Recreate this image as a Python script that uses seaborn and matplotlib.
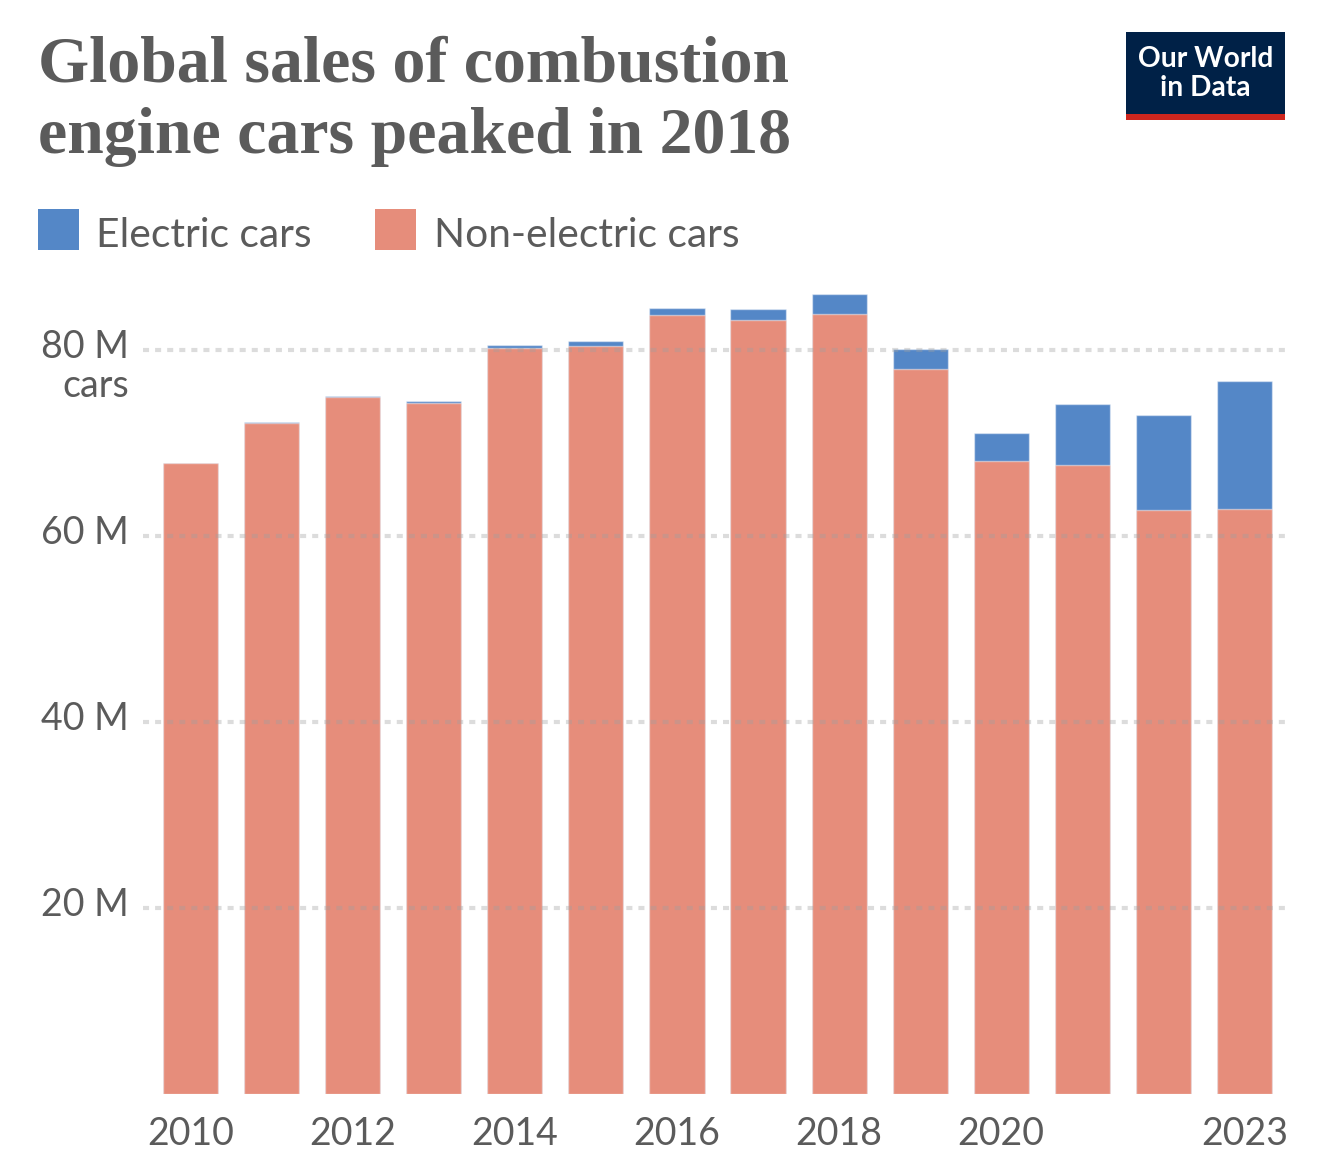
import matplotlib
matplotlib.use("Agg")
import matplotlib.pyplot as plt
import matplotlib.transforms as mtransforms
import seaborn as sns
import pandas as pd
from matplotlib.patches import Rectangle

# ---- data (millions of cars) ----
years = [2010, 2011, 2012, 2013, 2014, 2015, 2016, 2017, 2018, 2019, 2020, 2021, 2022, 2023]
electric = [0.01, 0.05, 0.13, 0.2, 0.35, 0.55, 0.75, 1.15, 2.1, 2.1, 3.0, 6.6, 10.2, 13.8]
non_electric = [67.85, 72.15, 74.95, 74.3, 80.2, 80.4, 83.8, 83.2, 83.9, 78.0, 68.1, 67.6, 62.8, 62.9]
xtick_years = ["2010", "2012", "2014", "2016", "2018", "2020", "2023"]
ytick_values = [20, 40, 60, 80]
ytick_labels = ["20 M", "40 M", "60 M", "80 M"]
legend_labels = ["Electric cars", "Non-electric cars"]
title_lines = ["Global sales of combustion", "engine cars peaked in 2018"]

BLUE = "#5487c7"
RED = "#e68d7b"
GREY = "#5b5b5b"
NAVY = "#002147"
LOGO_RED = "#ce261e"

sns.set_theme(style="white")
plt.rcParams['font.family'] = ['Lato', 'DejaVu Sans']

df = pd.DataFrame({"year": [str(y) for y in years],
                   "electric": electric,
                   "non_electric": non_electric})
df["total"] = df["electric"] + df["non_electric"]

W, H = 1320, 1167
fig = plt.figure(figsize=(W / 100, H / 100), dpi=100)
fig.patch.set_facecolor("white")

ax = fig.add_axes([143 / W, (H - 1094) / H, 1142 / W, (1094 - 289.5) / H])
sns.barplot(data=df, x="year", y="total", color=BLUE, saturation=1, width=0.68,
            edgecolor=(1, 1, 1, 0.45), linewidth=1, errorbar=None, ax=ax)
sns.barplot(data=df, x="year", y="non_electric", color=RED, saturation=1, width=0.68,
            edgecolor=(1, 1, 1, 0.45), linewidth=1, errorbar=None, ax=ax)

ax.set_xlim(-0.586, 13.5)
ax.set_ylim(0, 86.5)
ax.set_xlabel("")
ax.set_ylabel("")
for s in ax.spines.values():
    s.set_visible(False)

xt = [i for i, y in enumerate(years) if str(y) in xtick_years]
ax.set_xticks(xt)
ax.set_xticklabels([str(years[i]) for i in xt])
ax.set_yticks(ytick_values)
ax.set_yticklabels(ytick_labels)
ax.tick_params(axis="x", length=0, pad=16, labelsize=27, labelcolor=GREY)
ax.tick_params(axis="y", length=0, pad=10, labelsize=27, labelcolor=GREY)

# lift the y labels slightly above their gridlines, as in the reference
lift = mtransforms.ScaledTranslation(0, 0.065, fig.dpi_scale_trans)
for lab in ax.get_yticklabels():
    lab.set_transform(lab.get_transform() + lift)

ax.set_axisbelow(False)
ax.yaxis.grid(True, color="#a0a0a0", alpha=0.36, linewidth=3.0, linestyle=(0, (1.45, 1.45)))
ax.xaxis.grid(False)

fig.text(129 / W, 1 - 397 / H, "cars", ha="right", va="baseline", fontsize=27, color=GREY)

# ---- title ----
t1 = fig.text(38 / W, 1 - 81 / H, title_lines[0], fontfamily="Liberation Serif", weight="bold",
              color=GREY, fontsize=44, va="baseline", ha="left")
t2 = fig.text(38 / W, 1 - 153 / H, title_lines[1], fontfamily="Liberation Serif", weight="bold",
              color=GREY, fontsize=44, va="baseline", ha="left")

# ---- legend ----
fig.patches.append(Rectangle((38 / W, 1 - 250 / H), 41 / W, 41 / H, transform=fig.transFigure,
                             facecolor=BLUE, edgecolor="none"))
fig.patches.append(Rectangle((375 / W, 1 - 250 / H), 41 / W, 41 / H, transform=fig.transFigure,
                             facecolor=RED, edgecolor="none"))
l1 = fig.text(96 / W, 1 - 247 / H, legend_labels[0], fontsize=28, color=GREY, va="baseline")
l2 = fig.text(434 / W, 1 - 247 / H, legend_labels[1], fontsize=28, color=GREY, va="baseline")

# ---- logo ----
fig.patches.append(Rectangle((1126 / W, 1 - 114 / H), 159 / W, 82 / H, transform=fig.transFigure,
                             facecolor=NAVY, edgecolor="none"))
fig.patches.append(Rectangle((1126 / W, 1 - 120 / H), 159 / W, 6 / H, transform=fig.transFigure,
                             facecolor=LOGO_RED, edgecolor="none"))
g1 = fig.text(1205.5 / W, 1 - 67 / H, "Our World", color="white", fontsize=21, weight="bold",
              ha="center", va="baseline")
g2 = fig.text(1205.5 / W, 1 - 96 / H, "in Data", color="white", fontsize=21, weight="bold",
              ha="center", va="baseline")

# fit text widths to the reference
fig.canvas.draw()
r = fig.canvas.get_renderer()

def fit(t, target):
    w = t.get_window_extent(r).width
    t.set_fontsize(t.get_fontsize() * target / w)

fit(t1, 752)
t2.set_fontsize(t1.get_fontsize())
fit(l1, 216)
l2.set_fontsize(l1.get_fontsize())
fit(g1, 135)
g2.set_fontsize(g1.get_fontsize())

fig.savefig("out.png", dpi=100, facecolor="white")
